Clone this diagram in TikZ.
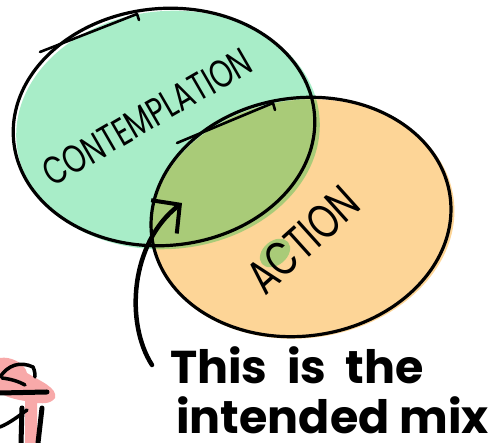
\documentclass[tikz,border=0pt]{standalone}
\usepackage{fontspec}
\setmainfont{Poppins}
\newfontfamily\setfont[FakeStretch=0.74]{Poppins}
\usetikzlibrary{shapes.geometric,arrows.meta}

\definecolor{mintfill}{HTML}{A8EDC8}
\definecolor{peachfill}{HTML}{FDD597}
\definecolor{mixfill}{HTML}{A9CB78}
\definecolor{pinkfill}{HTML}{F7A0A0}

\tikzset{%
          every blob/.style={
            ellipse,
            draw=black,
            line width=3.2pt,
            inner sep=0pt
          },
          sketch stroke/.style={
            draw=black,
            line width=2.6pt,
            line cap=round,
            line join=round
          },
          set label/.style={
            font=\setfont\fontsize{39}{39}\selectfont,
            inner sep=0pt
          },
          note label/.style={
            font=\bfseries\fontsize{46}{50}\selectfont,
            align=left,
            inner sep=0pt
          },
        }

\begin{document}
\begin{tikzpicture}[x=1pt, y=1pt]
        \useasboundingbox (0,0) rectangle (504,443);

        % fills, a little off the outlines
        \fill [mintfill, rotate around={5:(168,313)}] (168,313) ellipse [x radius=152, y radius=119];
        \fill [peachfill, rotate around={8:(303,224)}] (303,224) ellipse [x radius=152, y radius=119];
        \begin{scope}
          \clip [rotate around={5:(168,313)}] (168,313) ellipse [x radius=152, y radius=119];
          \fill [mixfill, rotate around={8:(303,224)}] (303,224) ellipse [x radius=152, y radius=119];
        \end{scope}
        \fill [mixfill, rotate around={40:(275,190)}] (275,190) ellipse [x radius=17, y radius=12];

        \node [every blob, minimum width=302pt, minimum height=237pt, rotate=5] (contemplation) at (164,316) {};
        \node [every blob, minimum width=301pt, minimum height=238pt, rotate=8] (action) at (301,226) {};

        \path [sketch stroke] (40,391) -- (137,429) -- (139,423);
        \path [sketch stroke] (177,300) -- (273,340) -- (275,333);

        \node [set label, rotate=30] (contemplation-label) at (147,326) {CONTEMPLATION};
        \node [set label, rotate=42, font=\setfont\fontsize{48}{48}\selectfont] (action-label) at (303,203) {ACTION};

        \node [note label, anchor=north west] (note) at (170,97) {This\ \ is\ \ the\\\hspace*{6pt}intended mix};
        \coordinate (arrow-tail) at (152,78);
        \coordinate (arrow-tip) at (182,240);
        \path [draw, line width=4.5pt, line cap=round, -{Straight Barb[length=20pt, width=42pt, line width=4pt]}]
          (arrow-tail) .. controls (125,120) and (130,200) .. (arrow-tip);

        % scribble in the corner
        \fill [pinkfill, opacity=0.9] (0,85) .. controls (10,87) and (25,80) .. (27,70)
          .. controls (40,62) and (58,55) .. (55,45) .. controls (50,38) and (40,40) .. (37,40)
          -- (37,0) -- (25,0) -- (25,42) .. controls (12,44) and (0,48) .. (0,52) -- cycle;
        \path [sketch stroke, line width=3.5pt] (0,66) .. controls (8,78) and (20,82) .. (33,76) .. controls (35,72) and (35,68) .. (35,66);
        \path [sketch stroke, line width=3.5pt] (2,65) .. controls (10,64) and (18,62) .. (25,58);
        \path [sketch stroke, line width=5pt] (0,50) -- (47,51);
        \path [sketch stroke, line width=5pt] (42,35) -- (38,0);
        \path [sketch stroke, line width=5pt] (22,35) -- (21,0);
        \path [sketch stroke, line width=3.5pt] (0,16) .. controls (10,20) and (20,28) .. (27,33);
\end{tikzpicture}
\end{document}
